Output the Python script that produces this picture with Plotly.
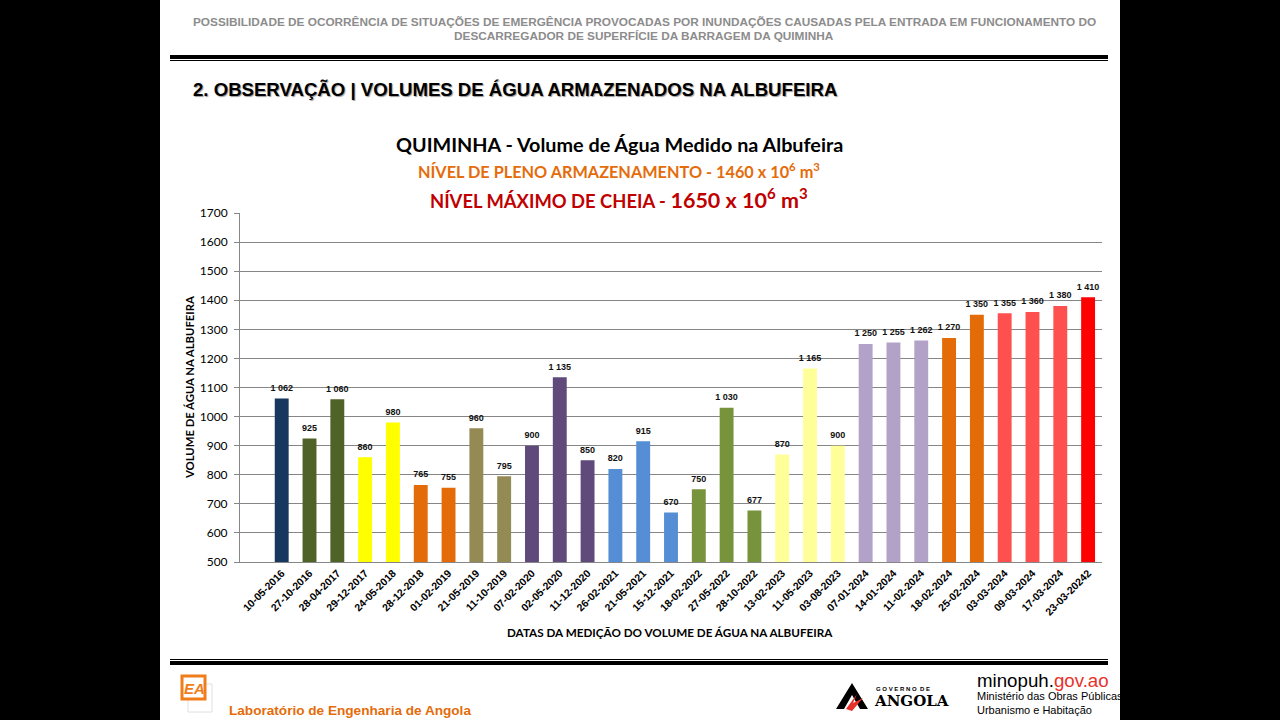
import plotly.graph_objects as go

dates = ["10-05-2016", "27-10-2016", "28-04-2017", "29-12-2017", "24-05-2018",
         "28-12-2018", "01-02-2019", "21-05-2019", "11-10-2019", "07-02-2020",
         "02-05-2020", "11-12-2020", "26-02-2021", "21-05-2021", "15-12-2021",
         "18-02-2022", "27-05-2022", "28-10-2022", "13-02-2023", "11-05-2023",
         "03-08-2023", "07-01-2024", "14-01-2024", "11-02-2024", "18-02-2024",
         "25-02-2024", "03-03-2024", "09-03-2024", "17-03-2024", "23-03-20242"]
volumes = [1062, 925, 1060, 860, 980, 765, 755, 960, 795, 900,
           1135, 850, 820, 915, 670, 750, 1030, 677, 870, 1165,
           900, 1250, 1255, 1262, 1270, 1350, 1355, 1360, 1380, 1410]
bar_colors = ["#17375E", "#4F6228", "#4F6228", "#FFFF00", "#FFFF00",
              "#E36C09", "#E36C09", "#948A54", "#948A54", "#604A7B",
              "#604A7B", "#604A7B", "#558ED5", "#558ED5", "#558ED5",
              "#77933C", "#77933C", "#77933C", "#FFFF99", "#FFFF99",
              "#FFFF99", "#B3A2C7", "#B3A2C7", "#B3A2C7", "#E36C09",
              "#E36C09", "#FF5050", "#FF5050", "#FF5050", "#FF0000"]
y_ticks = list(range(500, 1701, 100))
labels = [f"{v:,}".replace(",", " ") for v in volumes]

W, H = 1280, 720
def px(x): return x / W
def py(y): return 1 - y / H

ARIAL = "Liberation Sans, Arial, sans-serif"
NARROW = "Liberation Sans Narrow, Arial Narrow, Liberation Sans, sans-serif"
CAL = "Lato, Calibri, sans-serif"

fig = go.Figure()
fig.add_trace(go.Bar(
    x=dates, y=volumes, width=0.5,
    marker=dict(color=bar_colors, line=dict(width=0)),
    hoverinfo="x+y",
))
fig.add_trace(go.Scatter(
    x=dates, y=volumes, mode="markers+text", text=labels, textposition="top center",
    marker=dict(size=7, color="rgba(0,0,0,0)"),
    cliponaxis=False, hoverinfo="skip",
    textfont=dict(family=ARIAL, size=9, color="#111111", weight="bold"),
))

fig.update_layout(
    width=W, height=H, margin=dict(l=0, r=0, t=0, b=0, autoexpand=False),
    paper_bgcolor="white", plot_bgcolor="white", showlegend=False,
    xaxis=dict(type="category", range=[-1.5, 29.5], domain=[px(240), px(1102)],
               automargin=False,
               showline=True, linecolor="#868686", linewidth=1, showgrid=False,
               ticks="", tickangle=-45,
               tickfont=dict(family=ARIAL, size=10.5, color="black", weight="bold")),
    yaxis=dict(range=[500, 1700], tickvals=y_ticks, domain=[py(562), py(213)],
               automargin=False,
               showgrid=True, gridcolor="#868686", gridwidth=1,
               showline=True, linecolor="#868686", linewidth=1,
               ticks="outside", ticklen=5, tickcolor="#868686", ticklabelstandoff=4,
               tickfont=dict(family=CAL, size=12, color="black"), zeroline=False),
)

shapes = [
    dict(type="rect", xref="paper", yref="paper", x0=0, x1=px(160), y0=0, y1=1,
         fillcolor="black", line_width=0),
    dict(type="rect", xref="paper", yref="paper", x0=px(1120), x1=1, y0=0, y1=1,
         fillcolor="black", line_width=0),
    # header double line
    dict(type="rect", xref="paper", yref="paper", x0=px(170), x1=px(1108),
         y0=py(59), y1=py(55), fillcolor="black", line_width=0),
    dict(type="rect", xref="paper", yref="paper", x0=px(170), x1=px(1108),
         y0=py(61), y1=py(60), fillcolor="black", line_width=0),
    # footer double line
    dict(type="rect", xref="paper", yref="paper", x0=px(170), x1=px(1108),
         y0=py(660), y1=py(659), fillcolor="black", line_width=0),
    dict(type="rect", xref="paper", yref="paper", x0=px(170), x1=px(1108),
         y0=py(665), y1=py(661), fillcolor="black", line_width=0),
    # LEA logo: light 3D box + orange framed mark
    dict(type="rect", xref="paper", yref="paper", x0=px(188), x1=px(212),
         y0=py(712), y1=py(684), fillcolor="white", line=dict(color="#E0E0E0", width=1)),
    dict(type="rect", xref="paper", yref="paper", x0=px(182), x1=px(205),
         y0=py(699), y1=py(676), fillcolor="white", line=dict(color="#F07D1A", width=3)),
    # Governo de Angola logo (stylised A)
    dict(type="path", xref="paper", yref="paper",
         path=f"M {px(836)} {py(709)} L {px(852)} {py(683)} L {px(868)} {py(709)} L {px(860)} {py(709)} L {px(852)} {py(695)} L {px(844)} {py(709)} Z",
         fillcolor="black", line_width=0),
    dict(type="path", xref="paper", yref="paper",
         path=f"M {px(846)} {py(709)} L {px(857)} {py(694)} L {px(853)} {py(703)} L {px(863)} {py(698)} L {px(852)} {py(711)} Z",
         fillcolor="#E8312A", line_width=0),
]
fig.update_layout(shapes=shapes)

ann = []
def add(text, x, y, size, color="black", family=ARIAL, weight="normal", xanchor="center",
        yanchor="middle", textangle=0, shadow="none", style="normal"):
    ann.append(dict(text=text, x=px(x), y=py(y), xref="paper", yref="paper",
                    showarrow=False, xanchor=xanchor, yanchor=yanchor, textangle=textangle,
                    font=dict(family=family, size=size, color=color, weight=weight,
                              shadow=shadow, style=style)))

add("POSSIBILIDADE DE OCORRÊNCIA DE SITUAÇÕES DE EMERGÊNCIA PROVOCADAS POR INUNDAÇÕES CAUSADAS PELA ENTRADA EM FUNCIONAMENTO DO",
    644, 22, 11.8, color="#8C8C8C", family=NARROW, weight="bold")
add("DESCARREGADOR DE SUPERFÍCIE DA BARRAGEM DA QUIMINHA", 644, 36, 11.8, color="#8C8C8C",
    family=NARROW, weight="bold")
add("2. OBSERVAÇÃO | VOLUMES DE ÁGUA ARMAZENADOS NA ALBUFEIRA", 191, 89, 18.6, family=NARROW,
    weight="bold", xanchor="left", shadow="1px 1px 1px #9A9A9A")
add("QUIMINHA - Volume de Água Medido na Albufeira", 619, 144, 19.8, family=CAL, weight="bold")
add("NÍVEL DE PLENO ARMAZENAMENTO - 1460 x 10<sup>6</sup> m<sup>3</sup>", 619, 170, 16.3,
    color="#E46C0A", family=CAL, weight="bold")
add("NÍVEL MÁXIMO DE CHEIA - <span style='font-size:21.5px'>1650 x 10<sup>6</sup> m<sup>3</sup></span>",
    619, 198, 18.4, color="#C00000", family=CAL, weight="bold")
add("VOLUME DE ÁGUA NA ALBUFEIRA", 189, 388, 11.3, family=CAL, weight="bold", textangle=-90)
add("DATAS DA MEDIÇÃO DO VOLUME DE ÁGUA NA ALBUFEIRA", 670, 632, 11.7, family=CAL, weight="bold")
# footer
add("EA", 194, 688, 15, color="#F07D1A", family=ARIAL, weight="bold", style="italic")
add("Laboratório de Engenharia de Angola", 227, 710, 13.6, color="#E46C0A", family=NARROW,
    weight="bold", xanchor="left")
add("G O V E R N O  D E", 874, 689, 6, family=ARIAL, weight="bold", xanchor="left")
add("ANGOLA", 872, 701, 15, family="DejaVu Serif, serif", weight="bold", xanchor="left")
add("minopuh.<span style='color:#E8312A'>gov.ao</span>", 975, 680, 18.7, family=NARROW,
    xanchor="left")
add("Ministério das Obras Públicas,", 975, 696, 11, family=NARROW, xanchor="left")
add("Urbanismo e Habitação", 975, 710, 11, family=NARROW, xanchor="left")
fig.update_layout(annotations=ann)

fig.write_html("out.html", config={"displayModeBar": False},
               post_script="document.body.style.margin='0';document.body.style.overflow='hidden';")
